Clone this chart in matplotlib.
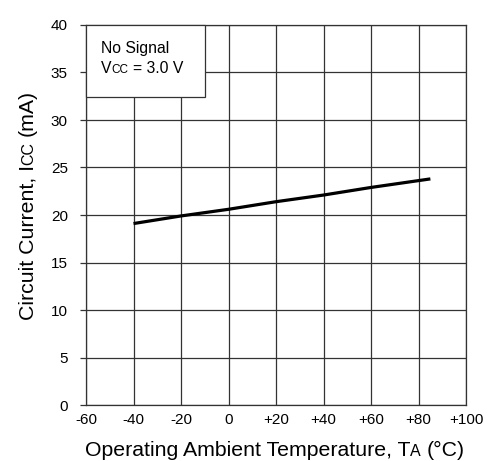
import matplotlib
matplotlib.use("Agg")
import matplotlib.pyplot as plt
from matplotlib.patches import Rectangle

plt.rcParams['font.family'] = ['Liberation Sans', 'DejaVu Sans']

# data
temp = [-40, -20, 0, 20, 40, 60, 85]
icc = [19.1, 19.9, 20.6, 21.4, 22.1, 22.9, 23.8]
xticks = [-60, -40, -20, 0, 20, 40, 60, 80, 100]
xticklabels = ['-60', '-40', '-20', '0', '+20', '+40', '+60', '+80', '+100']
yticks = [0, 5, 10, 15, 20, 25, 30, 35, 40]

W, H = 488, 461
fig = plt.figure(figsize=(W / 100, H / 100), dpi=100)
ax = fig.add_axes([86 / W, 56 / H, 380 / W, 380 / H])

ax.plot(temp, icc, color='black', lw=2.3, solid_capstyle='butt', zorder=3)

ax.set_xlim(-60, 100)
ax.set_ylim(0, 40)
ax.set_xticks(xticks)
ax.set_xticklabels(xticklabels)
ax.set_yticks(yticks)
ax.grid(True, color='#333333', lw=0.9)
ax.set_axisbelow(True)
for s in ax.spines.values():
    s.set_color('#333333')
    s.set_linewidth(0.9)
ax.tick_params(axis='x', length=0, pad=6, labelsize=11)
ax.tick_params(axis='y', length=4, width=0.9, color='#333333', pad=9, labelsize=11)

# condition box
ax.add_patch(Rectangle((-60, 32.4), 50, 7.6, facecolor='white', edgecolor='#333333',
                       lw=0.9, zorder=4, clip_on=False))

fig.canvas.draw()
renderer = fig.canvas.get_renderer()


def mixed_text(pieces):
    # pieces: (text, fontsize, gap_before_px)
    objs = []
    total = 0
    for s, size, gap in pieces:
        t = fig.text(0, 0, s, fontsize=size, ha='left', va='baseline',
                     rotation=0, rotation_mode='anchor')
        w = t.get_window_extent(renderer).width
        objs.append((t, gap, w))
        total += gap + w
    return objs, total


def place(objs, cx, cy, total, rotation=0, center=True):
    pos = -total / 2 if center else 0
    for t, gap, w in objs:
        pos += gap
        if rotation == 0:
            t.set_position(((cx + pos) / W, cy / H))
        else:
            t.set_position((cx / W, (cy + pos) / H))
            t.set_rotation(rotation)
        pos += w


big = 15.3
small = 11.5
sp = 0.278 * big * 100 / 72

objs, total = mixed_text([('Operating Ambient Temperature, T', big, 0),
                          ('A', small, 0),
                          ('(°C)', big, sp)])
place(objs, 275, 5, total)

objs, total = mixed_text([('Circuit Current, I', big, 0),
                          ('CC', small, 0),
                          ('(mA)', big, sp)])
place(objs, 33, 461 - 204.5, total, rotation=90)

# box text, positioned in pixels
bs = 11.3
objs, total = mixed_text([('No Signal', bs, 0)])
place(objs, 101, 461 - 53, total, center=False)
objs, total = mixed_text([('V', bs, 0), ('CC', 8.5, 0),
                          ('= 3.0 V', bs, 0.278 * bs * 100 / 72)])
place(objs, 101, 461 - 73, total, center=False)

fig.savefig('out.png', dpi=100)
